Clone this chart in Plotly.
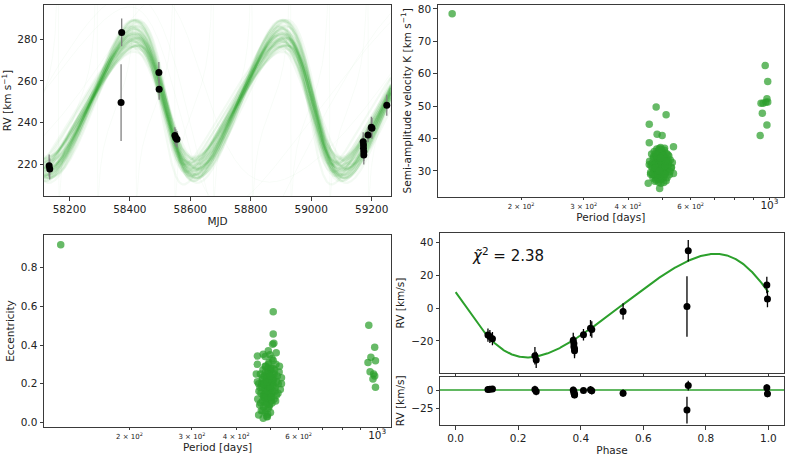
import numpy as np
import plotly.graph_objects as go

# ---------------- observed radial velocities ----------------
mjd = [58133, 58135, 58373, 58371, 58496, 58497, 58549, 58552, 58556,
       59172, 59173, 59173, 59174, 59174, 59188, 59199, 59201, 59250]
rv = [219.4, 217.8, 283.2, 249.6, 264.0, 256.0, 233.8, 232.8, 232.0,
      230.9, 229.3, 227.7, 226.1, 224.5, 234.1, 237.8, 237.3, 248.3]
rv_err = [5.3, 5.0, 6.6, 18.4, 5.0, 5.0, 4.0, 4.0, 4.0,
          4.5, 4.5, 4.5, 4.5, 4.5, 3.5, 5.0, 5.0, 5.0]
# systemic-subtracted RVs as shown in the phase panel
rv_rel = [-29.0, -31.5, 34.9, 1.0, 14.0, 5.5, -16.4, -17.3, -18.6,
          -19.5, -21.5, -23.5, -24.8, -26.0, -16.2, -12.2, -13.0, -2.0]

# ---------------- best-fit orbit ----------------
best_P = 489.5
best_K = 31.5
best_e = 0.16
best_w = np.pi / 2
best_T0 = 58008.9          # phase zero
best_tp = 58023.6          # periastron
best_gamma_rel = 1.5
chi2_text = "2.38"

# ---------------- posterior samples (period / K / e) ----------------
core_period = [460, 463, 466, 468, 470, 471, 473, 474, 475, 476, 477, 478, 479, 480, 481, 482, 483, 484,
               485, 486, 487, 488, 489, 490, 491, 492, 493, 494, 495, 496, 497, 498, 499, 500, 501, 502,
               503, 504, 505, 506, 507, 508, 510, 512, 514, 516, 518, 520, 523, 526, 529, 533, 537, 464,
               469, 472, 476, 479, 482, 485, 487, 489, 491, 493, 495, 497, 499, 501, 503, 505, 507, 509,
               511, 513, 517, 521, 525, 530, 484, 488, 492, 496, 500, 504, 508, 478, 474, 498, 494, 486,
               515, 519, 467, 502, 490, 483]
core_K = [33.0, 29.5, 35.2, 31.0, 27.8, 33.8, 30.2, 36.0, 28.6, 32.4, 34.6, 30.8, 27.2, 33.1, 29.4, 36.8,
          31.7, 28.1, 34.0, 30.5, 32.9, 26.5, 35.5, 29.9, 33.6, 31.2, 28.4, 37.2, 30.0, 32.5, 34.9, 27.5,
          31.8, 29.0, 35.8, 33.3, 30.6, 28.0, 32.0, 36.4, 29.6, 34.2, 31.4, 27.0, 33.7, 30.3, 35.0, 31.9,
          28.8, 33.4, 30.9, 32.6, 29.2, 31.6, 29.0, 34.4, 26.8, 31.5, 33.9, 27.6, 36.2, 32.1, 29.1, 34.3,
          26.2, 31.0, 35.9, 28.5, 33.0, 30.1, 37.0, 32.7, 29.3, 35.4, 31.3, 34.6, 29.8, 31.1, 30.4, 33.5,
          27.3, 36.6, 32.3, 26.4, 31.6, 35.3, 31.9, 30.7, 33.2, 28.9, 27.9, 32.8, 32.3, 34.8, 36.9, 30.0]
core_ecc = [0.12, 0.20, 0.09, 0.25, 0.15, 0.06, 0.18, 0.22, 0.11, 0.27, 0.14, 0.08, 0.19, 0.24, 0.13, 0.17,
            0.05, 0.21, 0.29, 0.16, 0.10, 0.23, 0.19, 0.12, 0.26, 0.07, 0.18, 0.15, 0.31, 0.21, 0.09, 0.14,
            0.24, 0.17, 0.28, 0.11, 0.20, 0.13, 0.33, 0.19, 0.25, 0.16, 0.22, 0.12, 0.27, 0.18, 0.30, 0.14,
            0.24, 0.20, 0.26, 0.17, 0.23, 0.16, 0.10, 0.20, 0.06, 0.14, 0.11, 0.15, 0.24, 0.20, 0.16, 0.12,
            0.08, 0.22, 0.18, 0.27, 0.15, 0.10, 0.21, 0.32, 0.19, 0.23, 0.11, 0.21, 0.15, 0.29, 0.26, 0.03,
            0.28, 0.25, 0.05, 0.22, 0.28, 0.20, 0.23, 0.35, 0.30, 0.09, 0.16, 0.36, 0.18, 0.13, 0.21, 0.29]

tail_period = [480, 512, 459, 483, 499, 537, 459, 456, 491, 509, 509, 511, 507, 459, 477, 493, 463, 477, 490]
tail_K = [49.7, 47.3, 44.4, 41.3, 40.9, 37.5, 38.7, 26.2, 24.6, 30.0, 31.5, 33.0, 29.0, 32.0, 31.0, 34.0,
          29.0, 31.0, 30.0]
tail_ecc = [0.13, 0.25, 0.21, 0.34, 0.24, 0.20, 0.30, 0.25, 0.04, 0.572, 0.457, 0.409, 0.404, 0.343,
            0.352, 0.37, 0.038, 0.021, 0.029]

long_period = [973, 989, 984, 977, 947, 960, 989, 955, 984, 942]
long_K = [62.5, 57.6, 52.3, 51.2, 50.9, 50.9, 51.3, 47.8, 44.2, 40.9]
long_ecc = [0.224, 0.181, 0.388, 0.250, 0.502, 0.336, 0.319, 0.262, 0.240, 0.309]

short_period = [128]
short_K = [78.5]
short_ecc = [0.919]

sample_period = core_period + tail_period + long_period + short_period
sample_K = core_K + tail_K + long_K + short_K
sample_ecc = core_ecc + tail_ecc + long_ecc + short_ecc

# ---------------- orbit draws for the MJD panel ----------------
curve_P = [489.5, 487, 492, 485, 494, 490, 488, 491, 486, 493, 489, 495, 484, 490.5, 487.5, 492.5, 488.5,
           491.5, 486.5, 489, 496, 483, 490, 488, 493.5, 485.5, 491, 489.5, 487, 494.5, 490, 486, 492,
           488, 489, 491, 484.5, 495.5, 490, 487.5,
           488.5, 490.5, 486, 493, 489, 491.5, 487, 494, 485, 490, 492, 488, 489.5, 486.5, 493.5, 490,
           487.5, 491, 489, 488]
curve_K = [32.5, 29.0, 36.0, 27.5, 38.0, 31.5, 34.5, 27.0, 36.5, 30.5, 35.0, 28.5, 35.8, 32.0, 29.8, 39.0,
           31.0, 33.8, 27.8, 37.2, 29.5, 33.2, 28.2, 35.3, 30.8, 38.3, 29.2, 34.2, 26.5, 32.3, 36.8, 31.3,
           28.0, 35.9, 33.4, 30.2, 34.8, 30.9, 26.9, 37.6,
           33.0, 30.0, 35.5, 28.8, 31.8, 37.8, 29.9, 34.0, 32.6, 27.3, 36.3, 31.1, 33.6, 28.6, 35.1, 30.6,
           32.9, 38.5, 29.4, 34.4]
curve_e = [0.16, 0.12, 0.21, 0.09, 0.18, 0.25, 0.14, 0.19, 0.11, 0.23, 0.15, 0.08, 0.20, 0.17, 0.27, 0.13,
           0.22, 0.10, 0.18, 0.15, 0.24, 0.12, 0.19, 0.16, 0.07, 0.21, 0.14, 0.28, 0.17, 0.11, 0.20, 0.13,
           0.22, 0.15, 0.18, 0.26, 0.10, 0.16, 0.23, 0.12,
           0.15, 0.19, 0.12, 0.22, 0.17, 0.10, 0.25, 0.14, 0.18, 0.20, 0.13, 0.24, 0.16, 0.09, 0.21, 0.18,
           0.11, 0.15, 0.23, 0.17]
curve_w = [1.57, 1.45, 1.70, 1.38, 1.62, 1.80, 1.50, 1.66, 1.35, 1.75, 1.55, 1.42, 1.68, 1.60, 1.85, 1.48,
           1.72, 1.40, 1.64, 1.52, 1.78, 1.44, 1.69, 1.58, 1.30, 1.74, 1.47, 1.88, 1.61, 1.39, 1.71, 1.49,
           1.76, 1.54, 1.63, 1.82, 1.36, 1.59, 1.73, 1.46,
           1.55, 1.65, 1.43, 1.77, 1.58, 1.37, 1.81, 1.51, 1.62, 1.70, 1.46, 1.79, 1.56, 1.33, 1.72, 1.60,
           1.41, 1.54, 1.76, 1.59]
curve_tcross = [58514, 58508, 58519, 58505, 58522, 58516, 58511, 58520, 58507, 58518, 58513, 58524,
                58509, 58514, 58503, 58519, 58511, 58522, 58508, 58516, 58518, 58506, 58521, 58513,
                58510, 58524, 58514, 58505, 58518, 58511, 58519, 58508, 58516, 58522, 58513, 58510,
                58521, 58514, 58506, 58518,
                58515, 58510, 58519, 58504, 58523, 58513, 58507, 58520, 58511, 58521, 58503, 58518,
                58514, 58509, 58523, 58506, 58516, 58513, 58520, 58510]
curve_gamma = [249.5, 248.2, 251.0, 248.6, 251.6, 250.2, 247.8, 250.5, 249.0, 251.3, 249.8, 248.3, 251.0,
               249.0, 252.0, 249.7, 248.0, 250.6, 249.2, 251.8, 248.8, 247.9, 251.2, 250.0, 248.6, 251.5,
               249.1, 247.5, 250.3, 249.6, 252.2, 249.0, 248.4, 250.8, 249.5, 251.6, 248.7, 250.1, 248.0,
               250.6,
               249.8, 250.9, 248.5, 251.4, 249.3, 250.4, 248.1, 251.9, 249.6, 250.7, 248.9, 251.1, 249.4,
               250.0, 248.3, 251.5, 249.9, 250.5, 248.8, 249.2]
# a few draws from the secondary period modes
odd_P = [128, 973, 955, 984]
odd_K = [78.5, 62.5, 47.8, 44.2]
odd_e = [0.919, 0.224, 0.262, 0.240]
odd_w = [1.2, 2.0, 1.6, 1.0]
odd_tcross = [58420, 58600, 58560, 58650]
odd_gamma = [250.0, 245.0, 248.0, 250.0]

GREEN = "#2ca02c"
FONT = "DejaVu Sans"


def kepler_rv(t, P, K, e, w, tp, gamma):
    t = np.asarray(t, dtype=float)
    M = np.mod(2 * np.pi * (t - tp) / P, 2 * np.pi)
    E = M.copy() if e < 0.8 else np.full_like(M, np.pi)
    for _ in range(80):
        E = E - (E - e * np.sin(E) - M) / (1 - e * np.cos(E))
    nu = 2 * np.arctan2(np.sqrt(1 + e) * np.sin(E / 2), np.sqrt(1 - e) * np.cos(E / 2))
    return gamma + K * (np.cos(nu + w) + e * np.cos(w))


def tp_from_cross(tc, P, e, w):
    nu_c = np.pi / 2 - w
    E_c = 2 * np.arctan(np.sqrt((1 - e) / (1 + e)) * np.tan(nu_c / 2))
    M_c = E_c - e * np.sin(E_c)
    return tc - M_c * P / (2 * np.pi)


fig = go.Figure()

# ---------- panel 1: RV vs MJD ----------
t_grid = np.linspace(58116, 59264, 1500)
for P, K, e, w, tc, g in zip(odd_P, odd_K, odd_e, odd_w, odd_tcross, odd_gamma):
    tp = tp_from_cross(tc, P, e, w)
    fig.add_trace(go.Scatter(x=t_grid, y=kepler_rv(t_grid, P, K, e, w, tp, g), mode="lines",
                             line=dict(color="rgba(44,160,44,0.03)", width=1),
                             xaxis="x", yaxis="y", showlegend=False, hoverinfo="skip"))
for P, K, e, w, tc, g in zip(curve_P, curve_K, curve_e, curve_w, curve_tcross, curve_gamma):
    tp = tp_from_cross(tc, P, e, w)
    fig.add_trace(go.Scatter(x=t_grid, y=kepler_rv(t_grid, P, K, e, w, tp, g), mode="lines",
                             line=dict(color="rgba(44,160,44,0.055)", width=2.2),
                             xaxis="x", yaxis="y", showlegend=False, hoverinfo="skip"))
fig.add_trace(go.Scatter(x=mjd, y=rv, mode="markers",
                         marker=dict(color="black", size=7),
                         error_y=dict(type="data", array=rv_err, color="#808080", thickness=1.3, width=0),
                         xaxis="x", yaxis="y", showlegend=False))

# ---------- panel 2: K vs period ----------
fig.add_trace(go.Scatter(x=sample_period, y=sample_K, mode="markers",
                         marker=dict(color=GREEN, size=7.5, opacity=0.72, line=dict(width=0)),
                         xaxis="x2", yaxis="y2", showlegend=False))

# ---------- panel 3: eccentricity vs period ----------
fig.add_trace(go.Scatter(x=sample_period, y=sample_ecc, mode="markers",
                         marker=dict(color=GREEN, size=7.5, opacity=0.72, line=dict(width=0)),
                         xaxis="x3", yaxis="y3", showlegend=False))

# ---------- panel 4: phase-folded ----------
phase = [((t - best_T0) / best_P) % 1.0 for t in mjd]
ph_grid = np.linspace(0, 1, 500)
model_grid = kepler_rv(best_T0 + ph_grid * best_P, best_P, best_K, best_e, best_w, best_tp, best_gamma_rel)
model_pts = kepler_rv(best_T0 + np.array(phase) * best_P, best_P, best_K, best_e, best_w, best_tp,
                      best_gamma_rel)
resid = np.array(rv_rel) - model_pts

fig.add_trace(go.Scatter(x=ph_grid, y=model_grid, mode="lines", line=dict(color=GREEN, width=2),
                         xaxis="x4", yaxis="y4", showlegend=False))
fig.add_trace(go.Scatter(x=phase, y=rv_rel, mode="markers", marker=dict(color="black", size=7),
                         error_y=dict(type="data", array=rv_err, color="black", thickness=1.3, width=0),
                         xaxis="x4", yaxis="y4", showlegend=False))
fig.add_trace(go.Scatter(x=[-0.05, 1.05], y=[0, 0], mode="lines",
                         line=dict(color="rgba(44,160,44,0.75)", width=1.8),
                         xaxis="x5", yaxis="y5", showlegend=False))
fig.add_trace(go.Scatter(x=phase, y=resid, mode="markers", marker=dict(color="black", size=7),
                         error_y=dict(type="data", array=rv_err, color="black", thickness=1.3, width=0),
                         xaxis="x5", yaxis="y5", showlegend=False))

# ---------------- layout ----------------
W, H = 789, 462


def dx(a, b):
    return [a / W, b / W]


def dy(top, bottom):
    return [1 - bottom / H, 1 - top / H]


base = dict(showline=True, mirror=True, linecolor="#3a3a3a", linewidth=1, ticks="outside", ticklen=3.5,
            tickwidth=1, tickcolor="#3a3a3a", showgrid=False, zeroline=False, automargin=False,
            tickfont=dict(size=10.5, color="#222", family=FONT),
            title_font=dict(size=10.5, color="#222", family=FONT))

mjd_ticks = [58200, 58400, 58600, 58800, 59000, 59200]
log_ticks = [200, 300, 400, 500, 600, 700, 800, 900, 1000]
log_text = ["2 × 10<sup>2</sup>", "3 × 10<sup>2</sup>", "4 × 10<sup>2</sup>", "", "6 × 10<sup>2</sup>",
            "", "", "", "<span style='font-size:10.5px'>10<sup>3</sup></span>"]

fig.update_layout(
    width=W, height=H, margin=dict(l=0, r=0, t=0, b=0),
    paper_bgcolor="white", plot_bgcolor="white",
    font=dict(family=FONT, size=10.5, color="#222"),
    xaxis=dict(base, domain=dx(44, 391), anchor="y", range=[58116, 59264],
               tickvals=mjd_ticks, ticktext=[str(v) for v in mjd_ticks],
               title=dict(text="MJD", standoff=3)),
    yaxis=dict(base, domain=dy(5, 196), anchor="x", range=[204.9, 296.3], tickvals=[220, 240, 260, 280],
               title=dict(text="RV [km s<sup>−1</sup>]", standoff=4)),
    xaxis2=dict(base, domain=dx(437.7, 784), anchor="y2", type="log", range=[2.0665, 3.041],
                tickvals=log_ticks, ticktext=log_text, tickfont=dict(size=7, color="#222", family=FONT),
                ticklen=2.5, ticklabeloverflow="allow", title=dict(text="Period [days]", standoff=3)),
    yaxis2=dict(base, domain=dy(5, 196.7), anchor="x2", range=[22.05, 81.2],
                tickvals=[30, 40, 50, 60, 70, 80],
                title=dict(text="Semi-amplitude velocity K [km s<sup>−1</sup>]", standoff=4)),
    xaxis3=dict(base, domain=dx(44, 391), anchor="y3", type="log", range=[2.060, 3.039],
                tickvals=log_ticks, ticktext=log_text, tickfont=dict(size=7, color="#222", family=FONT),
                ticklen=2.5, ticklabeloverflow="allow", title=dict(text="Period [days]", standoff=3)),
    yaxis3=dict(base, domain=dy(235.3, 426.7), anchor="x3", range=[-0.023, 0.968],
                tickvals=[0.0, 0.2, 0.4, 0.6, 0.8], tickformat=".1f",
                title=dict(text="Eccentricity", standoff=4)),
    xaxis4=dict(base, domain=dx(440, 784), anchor="y4", range=[-0.05, 1.05], matches="x5",
                tickvals=[0, 0.2, 0.4, 0.6, 0.8, 1.0], showticklabels=False),
    yaxis4=dict(base, domain=dy(233.3, 372.7), anchor="x4", range=[-39.3, 45.5],
                tickvals=[-20, 0, 20, 40], ticktext=["−20", "0", "20", "40"],
                title=dict(text="RV [km/s]", standoff=4)),
    xaxis5=dict(base, domain=dx(440, 784), anchor="y5", range=[-0.05, 1.05],
                tickvals=[0, 0.2, 0.4, 0.6, 0.8, 1.0], tickformat=".1f",
                title=dict(text="Phase", standoff=3)),
    yaxis5=dict(base, domain=dy(376.7, 425), anchor="x5", range=[-47.8, 18.2],
                tickvals=[-25, 0], ticktext=["−25", "0"],
                title=dict(text="RV [km/s]", standoff=4)),
    annotations=[dict(text="<i>χ̃</i><sup>2</sup> = " + chi2_text, xref="paper", yref="paper",
                      x=470 / W, y=1 - 255 / H, xanchor="left", yanchor="middle", showarrow=False,
                      font=dict(size=15, color="#111", family=FONT))],
)

fig.write_html("out.html", config={"displayModeBar": False},
               post_script="document.body.style.margin='0px';document.body.style.padding='0px';")
